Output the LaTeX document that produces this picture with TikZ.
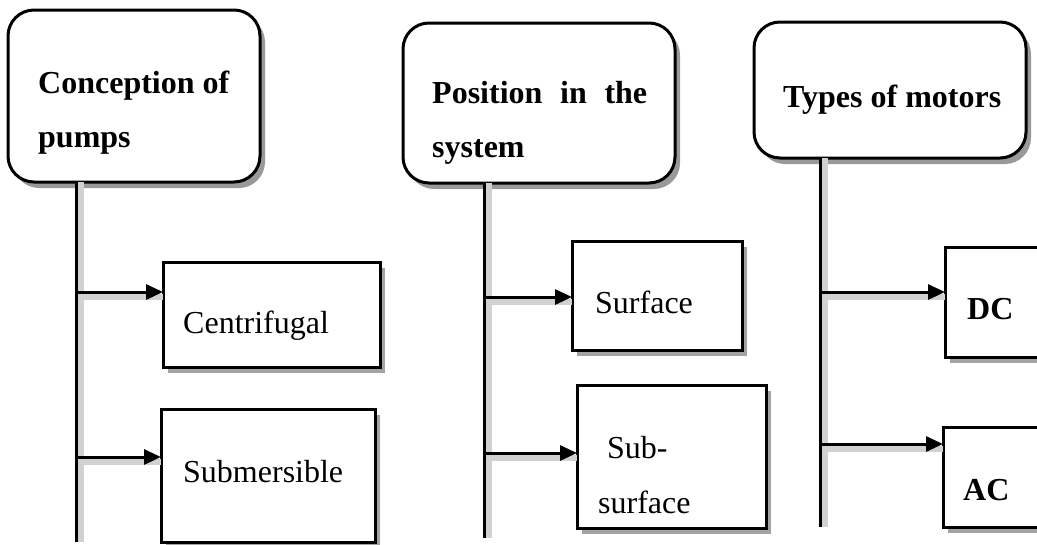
\documentclass[tikz,border=0pt]{standalone}
\usepackage{fontspec}
\setmainfont{Liberation Serif}
\usetikzlibrary{shadows,arrows.meta}
\tikzset{
  hbox/.style={draw=black, line width=3pt, fill=white, rounded corners=26pt, inner sep=0pt, outer sep=0pt, anchor=north west,
     drop shadow={shadow xshift=5pt, shadow yshift=-6pt, fill=black!50, opacity=0.8}},
  cbox/.style={draw=black, line width=3pt, fill=white, inner sep=0pt, outer sep=0pt, anchor=north west,
     drop shadow={shadow xshift=5pt, shadow yshift=-6pt, fill=black!45, opacity=0.8}},
  txt/.style={anchor=base west, inner sep=0pt, font=\fontsize{32}{38}\selectfont},
  btxt/.style={txt, font=\fontsize{32}{38}\selectfont\bfseries},
  vline/.style={draw=black, line width=3pt},
  arr/.style={draw=black, line width=3pt, -{Triangle[length=17pt,width=15pt]}},
  lshadow/.style={draw=black!18, line width=6pt},
}
\begin{document}
\begin{tikzpicture}[x=1pt,y=-1pt]
\useasboundingbox (0,0) rectangle (1037,544);
\clip (0,0) rectangle (1037,544);

% header boxes
\node[hbox, minimum width=252pt, minimum height=172pt] (b1) at (8,10) {};
\node[hbox, minimum width=272pt, minimum height=160pt] (b2) at (403,23) {};
\node[hbox, minimum width=272pt, minimum height=136pt] (b3) at (754,22) {};

% child boxes
\node[cbox, minimum width=217pt, minimum height=105pt] (cen) at (163,262) {};
\node[cbox, minimum width=214pt, minimum height=133pt] (sub) at (161,409) {};
\node[cbox, minimum width=170pt, minimum height=109pt] (sur) at (572,241) {};
\node[cbox, minimum width=189pt, minimum height=143pt] (ssf) at (577,385) {};
\node[cbox, minimum width=94pt, minimum height=110pt] (dc) at (945,247) {};
\node[cbox, minimum width=96pt, minimum height=100pt] (ac) at (943,427) {};

% texts
\node[btxt] (t1a) at (38,93) {Conception of};
\node[btxt] (t1b) at (38,147) {pumps};
\node[btxt] (t2a) at (432,103) {\makebox[215pt][s]{Position in the}};
\node[btxt] (t2b) at (432,157) {system};
\node[btxt] (t3a) at (783,107) {Types of motors};
\node[txt] (tc) at (183,333) {Centrifugal};
\node[txt] (ts) at (183,482) {Submersible};
\node[txt] (tsu) at (595,313) {Surface};
\node[txt] (tss1) at (607,458) {Sub-};
\node[txt] (tss2) at (598,513) {surface};
\node[btxt] (tdc) at (967,319) {DC};
\node[btxt] (tac) at (963,500) {AC};

% connector coordinates
\coordinate (l1t) at (76,182);
\coordinate (l1b) at (76,542);
\coordinate (l2t) at (484,183);
\coordinate (l2b) at (484,538);
\coordinate (l3t) at (820,158);
\coordinate (l3b) at (820,527);
\coordinate (a1) at (76,292);
\coordinate (a2) at (76,457);
\coordinate (a3) at (484,297);
\coordinate (a4) at (484,453);
\coordinate (a5) at (820,292);
\coordinate (a6) at (820,444);

% line shadows
\draw[lshadow] ([xshift=5pt]l1t) -- ([xshift=5pt]l1b);
\draw[lshadow] ([xshift=5pt]l2t) -- ([xshift=5pt]l2b);
\draw[lshadow] ([xshift=5pt]l3t) -- ([xshift=5pt]l3b);
\foreach \a/\b in {a1/cen,a2/sub,a3/sur,a4/ssf,a5/dc,a6/ac}{
  \draw[lshadow] ([xshift=5pt,yshift=-5pt]\a) -- ([yshift=-5pt]\b.west |- \a);
}

% lines
\draw[vline] (l1t) -- (l1b);
\draw[vline] (l2t) -- (l2b);
\draw[vline] (l3t) -- (l3b);

% arrows
\draw[arr] (a1) -- (cen.west |- a1);
\draw[arr] (a2) -- (sub.west |- a2);
\draw[arr] (a3) -- (sur.west |- a3);
\draw[arr] (a4) -- (ssf.west |- a4);
\draw[arr] (a5) -- (dc.west |- a5);
\draw[arr] (a6) -- (ac.west |- a6);
\end{tikzpicture}
\end{document}
